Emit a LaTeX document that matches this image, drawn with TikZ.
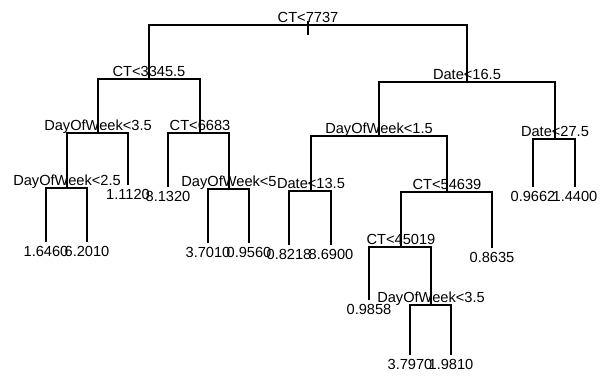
\documentclass[tikz,border=0pt]{standalone}
\usepackage{fontspec}
\setmainfont{Liberation Sans}
\usetikzlibrary{positioning}

\begin{document}
\begin{tikzpicture}[x=0.025cm, y=-0.025cm, line width=0.8pt,
        split/.style={inner sep=0pt, anchor=base, font=\fontsize{10.4}{12}\selectfont},
        leaf/.style={inner sep=0pt, font=\fontsize{10.4}{12}\selectfont}]
        \useasboundingbox (0,0) rectangle (605,380);

        \coordinate (top) at (308,21);
        \coordinate (stub) at (308,35);
        \coordinate (s1) at (308,25);
        \coordinate (s2) at (149,79);
        \coordinate (s3) at (98,133);
        \coordinate (s4) at (200,133);
        \coordinate (s5) at (67,188);
        \coordinate (s6) at (229,189);
        \coordinate (s7) at (467,82);
        \coordinate (s8) at (379,136);
        \coordinate (s9) at (555,139);
        \coordinate (s10) at (311,191);
        \coordinate (s11) at (447,192);
        \coordinate (s12) at (401,247);
        \coordinate (s13) at (431,305);

        \coordinate (l1) at (46,242);
        \coordinate (l2) at (87,242);
        \coordinate (l3) at (128,185);
        \coordinate (l4) at (168,187);
        \coordinate (l5) at (208,243);
        \coordinate (l6) at (249,243);
        \coordinate (l7) at (289,245);
        \coordinate (l8) at (331,245);
        \coordinate (l9) at (369,300);
        \coordinate (l10) at (410,355);
        \coordinate (l11) at (451,355);
        \coordinate (l12) at (492,248);
        \coordinate (l13) at (533,187);
        \coordinate (l14) at (575,187);

        \draw (top) -- (stub);
        \draw (s1) -| (s2);
        \draw (s1) -| (s7);
        \draw (s2) -| (s3);
        \draw (s2) -| (s4);
        \draw (s3) -| (s5);
        \draw (s3) -| (l3);
        \draw (s4) -| (l4);
        \draw (s4) -| (s6);
        \draw (s5) -| (l1);
        \draw (s5) -| (l2);
        \draw (s6) -| (l5);
        \draw (s6) -| (l6);
        \draw (s7) -| (s8);
        \draw (s7) -| (s9);
        \draw (s8) -| (s10);
        \draw (s8) -| (s11);
        \draw (s9) -| (l13);
        \draw (s9) -| (l14);
        \draw (s10) -| (l7);
        \draw (s10) -| (l8);
        \draw (s11) -| (s12);
        \draw (s11) -| (l12);
        \draw (s12) -| (l9);
        \draw (s12) -| (s13);
        \draw (s13) -| (l10);
        \draw (s13) -| (l11);

        \node[split] (t1) at ([yshift=2pt]s1) {CT<7737};
        \node[split] (t2) at ([yshift=2pt]s2) {CT<3345.5};
        \node[split] (t3) at ([yshift=2pt]s3) {DayOfWeek<3.5};
        \node[split] (t4) at ([yshift=2pt]s4) {CT<6683};
        \node[split] (t5) at ([yshift=2pt]s5) {DayOfWeek<2.5};
        \node[split] (t6) at ([yshift=2pt]s6) {DayOfWeek<5};
        \node[split] (t7) at ([yshift=2pt]s7) {Date<16.5};
        \node[split] (t8) at ([yshift=2pt]s8) {DayOfWeek<1.5};
        \node[split] (t9) at ([yshift=2pt]s9) {Date<27.5};
        \node[split] (t10) at ([yshift=2pt]s10) {Date<13.5};
        \node[split] (t11) at ([yshift=2pt]s11) {CT<54639};
        \node[split] (t12) at ([yshift=2pt]s12) {CT<45019};
        \node[split] (t13) at ([yshift=2pt]s13) {DayOfWeek<3.5};

        \node[leaf, below=2.5pt of l1] (v1) {1.6460};
        \node[leaf, below=2.5pt of l2] (v2) {6.2010};
        \node[leaf, below=2.5pt of l3] (v3) {1.1120};
        \node[leaf, below=2.5pt of l4] (v4) {8.1320};
        \node[leaf, below=2.5pt of l5] (v5) {3.7010};
        \node[leaf, below=2.5pt of l6] (v6) {0.9560};
        \node[leaf, below=2.5pt of l7] (v7) {0.8218};
        \node[leaf, below=2.5pt of l8] (v8) {8.6900};
        \node[leaf, below=2.5pt of l9] (v9) {0.9858};
        \node[leaf, below=2.5pt of l10] (v10) {3.7970};
        \node[leaf, below=2.5pt of l11] (v11) {1.9810};
        \node[leaf, below=2.5pt of l12] (v12) {0.8635};
        \node[leaf, below=2.5pt of l13] (v13) {0.9662};
        \node[leaf, below=2.5pt of l14] (v14) {1.4400};
\end{tikzpicture}
\end{document}
